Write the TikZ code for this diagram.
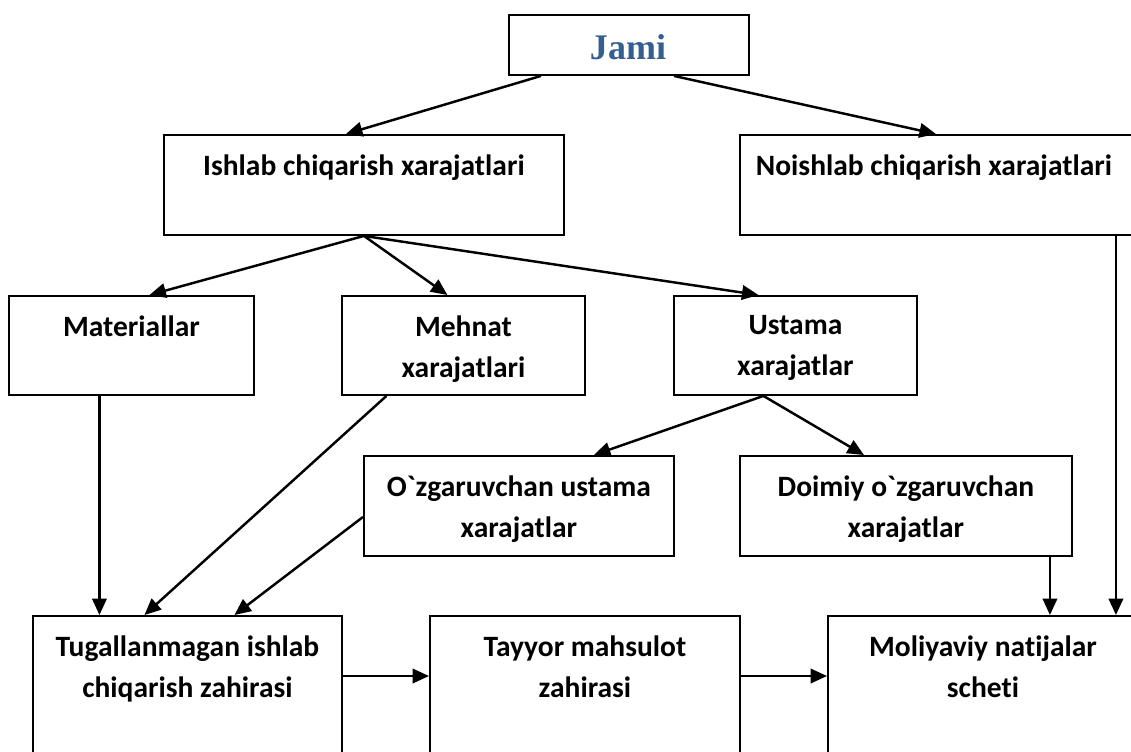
\documentclass[tikz,border=0pt]{standalone}
\usepackage{fontspec}
\setmainfont{Carlito}[Ligatures={TeXOff,CommonOff}]
\newfontfamily\jamifont{Liberation Serif}
\usetikzlibrary{calc,arrows.meta}
\definecolor{jamiblue}{HTML}{365F91}

\begin{document}
\begin{tikzpicture}
  [x=0.02cm,y=-0.02cm,
  box/.style={draw,line width=1.1pt,anchor=north west,inner sep=0pt},
  t/.style={anchor=north,align=center,inner sep=0pt,
    font=\bfseries\fontsize{16.8}{23.4}\selectfont},
  arr/.style={line width=1.4pt,-{Triangle[length=0.33cm,width=0.29cm]}}]

  \useasboundingbox (0,0) rectangle (1131,751);
  \clip (0,0) rectangle (1131,751);

  \node[box,minimum width=4.8cm,minimum height=1.2cm] (jami) at (508,14) {};
  \node[font=\jamifont\bfseries\fontsize{20.5}{24}\selectfont,text=jamiblue] (jamitxt) at (628,47) {Jami};

  \node[box,minimum width=8cm,minimum height=2cm] (ishlab) at (163,134) {};
  \node[box,minimum width=7.92cm,minimum height=2cm] (noishlab) at (739,134) {};

  \node[box,minimum width=4.9cm,minimum height=1.98cm] (mat) at (8,295) {};
  \node[box,minimum width=4.86cm,minimum height=1.98cm] (mehnat) at (341,295) {};
  \node[box,minimum width=4.86cm,minimum height=1.98cm] (ustama) at (673,295) {};

  \node[box,minimum width=6.2cm,minimum height=2cm] (ozgar) at (363,455) {};
  \node[box,minimum width=6.64cm,minimum height=2cm] (doimiy) at (739,455) {};

  \node[box,minimum width=6.18cm,minimum height=4cm] (tugal) at (32,615) {};
  \node[box,minimum width=6.2cm,minimum height=4cm] (tayyor) at (429,615) {};
  \node[box,minimum width=6.2cm,minimum height=4cm] (moliya) at (827,615) {};

  \node[t] (ishlabtxt) at ($(ishlab.north)+(0,20)$) {Ishlab chiqarish xarajatlari};
  \node[t] (noishlabtxt) at ($(noishlab.north)+(-4,20)$) {Noishlab chiqarish xarajatlari};
  \node[t] (mattxt) at ($(mat.north)+(0,20)$) {Materiallar};
  \node[t] (mehnattxt) at ($(mehnat.north)+(0,20)$) {Mehnat\\xarajatlari};
  \node[t] (ustamatxt) at ($(ustama.north)+(0,20)$) {Ustama\\xarajatlar};
  \node[t] (ozgartxt) at ($(ozgar.north)+(0,20)$) {O`zgaruvchan ustama\\xarajatlar};
  \node[t] (doimiytxt) at ($(doimiy.north)+(0,20)$) {Doimiy o`zgaruvchan\\xarajatlar};
  \node[t] (tugaltxt) at ($(tugal.north)+(0,20)$) {Tugallanmagan ishlab\\chiqarish zahirasi};
  \node[t] (tayyortxt) at ($(tayyor.north)+(0,20)$) {Tayyor mahsulot\\zahirasi};
  \node[t] (moliyatxt) at ($(moliya.north)+(0,20)$) {Moliyaviy natijalar\\scheti};

  \draw[arr] ($(jami.south)+(-88,0)$) -- ($(ishlab.north)+(-18,0)$);
  \draw[arr] ($(jami.south)+(45,0)$) -- ($(noishlab.north)+(-2,0)$);

  \draw[arr] (ishlab.south) -- ($(mat.north)+(18,0)$);
  \draw[arr] (ishlab.south) -- ($(mehnat.north)+(-16,0)$);
  \draw[arr] (ishlab.south) -- ($(ustama.north)+(-37,0)$);

  \draw[arr] ($(ustama.south)+(-32,0)$) -- ($(ozgar.north)+(75,0)$);
  \draw[arr] ($(ustama.south)+(-32,0)$) -- ($(doimiy.north)+(-42,0)$);

  \coordinate (m1) at ($(mat.south)+(-32,0)$);
  \draw[arr] (m1) -- (m1 |- tugal.north);
  \draw[arr] ($(mehnat.south)+(-77,0)$) -- ($(tugal.north)+(-43,0)$);
  \draw[arr] ($(ozgar.west)+(0,11)$) -- ($(tugal.north)+(47,0)$);

  \coordinate (d1) at ($(doimiy.south)+(144,0)$);
  \draw[arr] (d1) -- (d1 |- moliya.north);
  \coordinate (n1) at ($(noishlab.south)+(178,0)$);
  \draw[arr] (n1) -- (n1 |- moliya.north);

  \coordinate (h1) at ($(tugal.north east)+(0,61)$);
  \draw[arr] (h1) -- (h1 -| tayyor.west);
  \coordinate (h2) at ($(tayyor.north east)+(0,61)$);
  \draw[arr] (h2) -- (h2 -| moliya.west);

\end{tikzpicture}
\end{document}
